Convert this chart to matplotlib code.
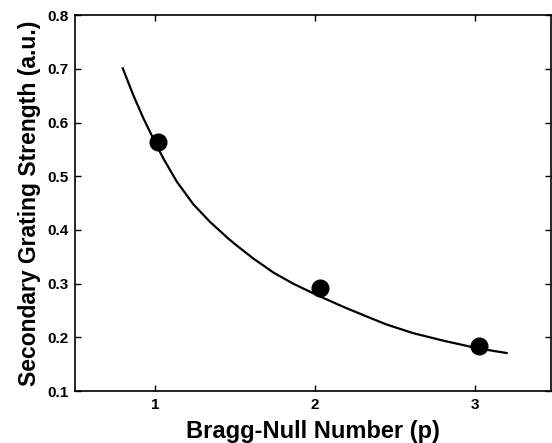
import matplotlib
matplotlib.use('Agg')
import matplotlib.pyplot as plt

plt.rcParams['font.family'] = ['Liberation Sans', 'DejaVu Sans']
plt.rcParams['font.weight'] = 'bold'

# measured points
p_meas = [1.02, 2.03, 3.025]
s_meas = [0.563, 0.292, 0.184]

# fitted curve
p_fit = [0.798, 0.864, 0.927, 0.989, 1.052, 1.136, 1.239, 1.344, 1.458,
         1.511, 1.614, 1.739, 1.864, 2.011, 2.177, 2.323, 2.448, 2.614,
         2.802, 2.969, 3.114, 3.198]
s_fit = [0.701, 0.651, 0.608, 0.570, 0.533, 0.490, 0.448, 0.415, 0.384,
         0.371, 0.347, 0.321, 0.300, 0.279, 0.257, 0.239, 0.224, 0.208,
         0.194, 0.183, 0.175, 0.171]

xticks = [1, 2, 3]
yticks = [0.1, 0.2, 0.3, 0.4, 0.5, 0.6, 0.7, 0.8]

fig = plt.figure(figsize=(5.52, 4.43), dpi=100)
ax = fig.add_axes([0.136, 0.117, 0.862, 0.849])

ax.plot(p_fit, s_fit, color='black', lw=1.6)
ax.plot(p_meas, s_meas, 'o', color='black', markersize=12)

ax.set_xlim(0.5, 3.475)
ax.set_ylim(0.1, 0.8)
ax.set_xticks(xticks)
ax.set_yticks(yticks)
ax.set_yticklabels([f'{v:.1f}' for v in yticks])
ax.tick_params(direction='in', top=True, right=True, length=4, width=1,
               labelsize=11, pad=5)
for sp in ax.spines.values():
    sp.set_linewidth(1.2)

ax.set_xlabel('Bragg-Null Number (p)', fontsize=17, fontweight='bold', labelpad=6)
ax.set_ylabel('Secondary Grating Strength (a.u.)', fontsize=16.5, fontweight='bold', labelpad=4)

fig.savefig('out.png', dpi=100)
